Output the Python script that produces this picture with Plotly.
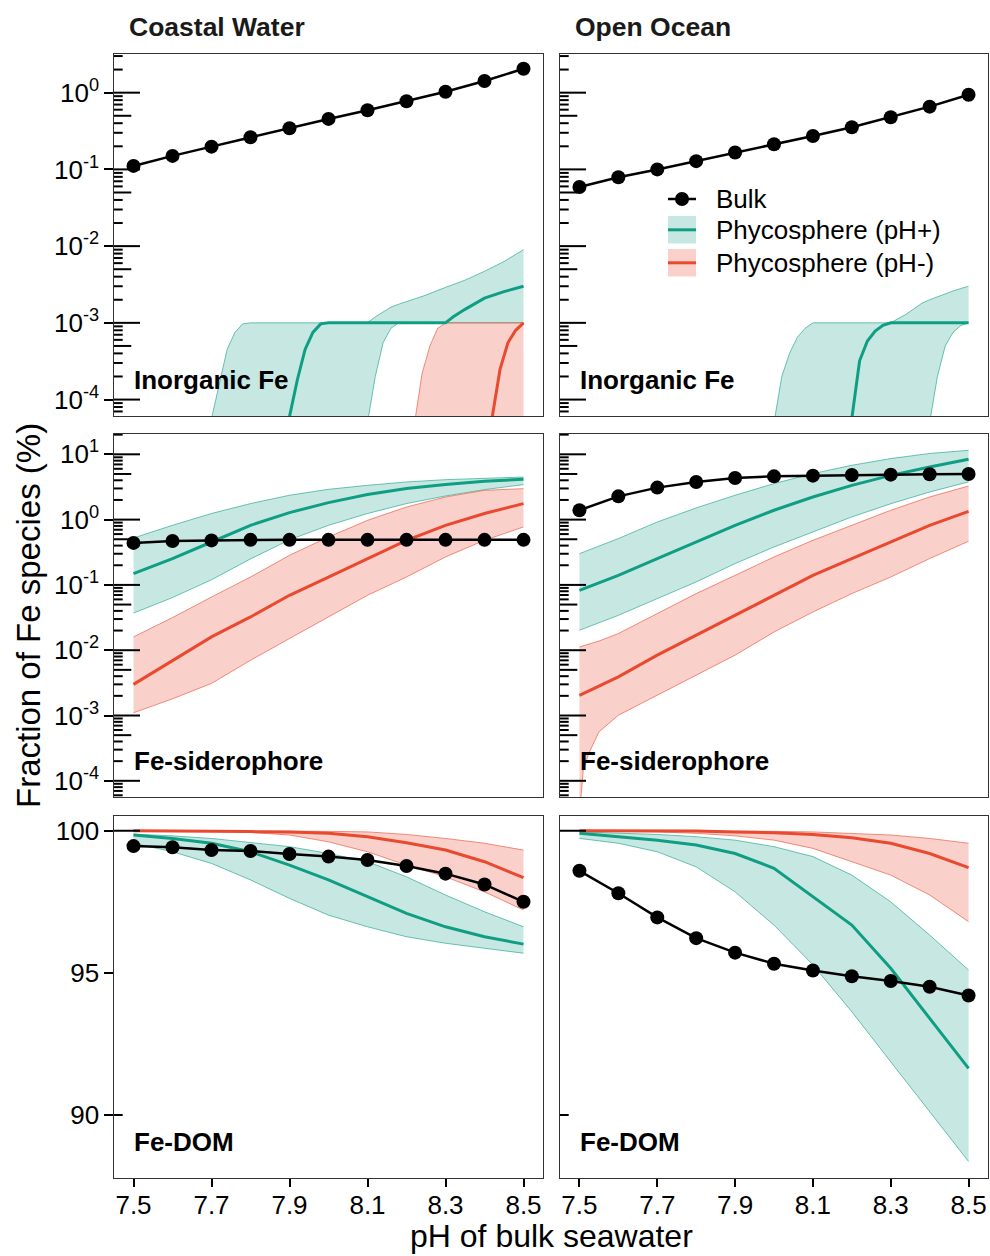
import plotly.graph_objects as go

# ---------------- data ----------------
PH = [7.5, 7.6, 7.7, 7.8, 7.9, 8.0, 8.1, 8.2, 8.3, 8.4, 8.5]
PH_TICKS = [7.5, 7.7, 7.9, 8.1, 8.3, 8.5]

# Inorganic Fe - Coastal Water
coast_inorg_bulk = [0.111, 0.150, 0.198, 0.262, 0.344, 0.455, 0.590, 0.773, 1.03, 1.42, 2.05]
coast_inorg_plus_band_x = [7.50, 7.60, 7.68, 7.70, 7.72, 7.74, 7.76, 7.78, 7.80, 7.90, 8.00, 8.08,
                           8.10, 8.12, 8.14, 8.16, 8.18, 8.20, 8.25, 8.30, 8.35, 8.40, 8.45, 8.50]
coast_inorg_plus_hi = [1e-6, 1e-6, 2e-5, 5.5e-5, 1.5e-4, 4.5e-4, 7.5e-4, 9.7e-4, 1e-3, 1e-3, 1e-3, 1e-3,
                       1e-3, 1.2e-3, 1.4e-3, 1.6e-3, 1.75e-3, 1.9e-3, 2.3e-3, 2.9e-3, 3.6e-3, 4.7e-3, 6.3e-3, 9.0e-3]
coast_inorg_plus_lo = [1e-6, 1e-6, 1e-6, 1e-6, 1e-6, 1e-6, 1e-6, 1e-6, 1e-6, 1e-6, 1e-6, 1e-6,
                       5e-5, 2e-4, 5.5e-4, 8.5e-4, 1e-3, 1e-3, 1e-3, 1e-3, 1e-3, 1e-3, 1e-3, 1e-3]
coast_inorg_plus_med_x = [7.50, 7.80, 7.88, 7.90, 7.92, 7.94, 7.96, 7.98, 8.00, 8.30, 8.32, 8.35, 8.40, 8.45, 8.50]
coast_inorg_plus_med = [1e-6, 1e-6, 1e-5, 6e-5, 1.8e-4, 4.5e-4, 7.5e-4, 9.7e-4, 1e-3, 1e-3, 1.2e-3, 1.5e-3, 2.1e-3, 2.55e-3, 3.0e-3]
coast_inorg_minus_band_x = [7.50, 8.10, 8.20, 8.22, 8.24, 8.26, 8.28, 8.30, 8.40, 8.50]
coast_inorg_minus_hi = [1e-6, 1e-6, 1e-5, 5e-5, 2.2e-4, 5e-4, 8.5e-4, 1e-3, 1e-3, 1e-3]
coast_inorg_minus_lo = [1e-6, 1e-6, 1e-6, 1e-6, 1e-6, 1e-6, 1e-6, 1e-6, 1e-6, 1e-6]
coast_inorg_minus_med_x = [7.50, 8.40, 8.42, 8.44, 8.46, 8.48, 8.50]
coast_inorg_minus_med = [1e-6, 1e-5, 6e-5, 2.5e-4, 5.5e-4, 8e-4, 1e-3]

# Inorganic Fe - Open Ocean
open_inorg_bulk = [0.059, 0.079, 0.100, 0.128, 0.166, 0.213, 0.273, 0.354, 0.478, 0.657, 0.94]
open_inorg_plus_band_x = [7.50, 7.90, 7.98, 8.00, 8.02, 8.04, 8.06, 8.08, 8.10, 8.20, 8.30, 8.34, 8.38,
                          8.40, 8.42, 8.44, 8.46, 8.48, 8.50]
open_inorg_plus_hi = [1e-6, 1e-6, 1.5e-5, 5e-5, 2e-4, 4e-4, 6.5e-4, 8.5e-4, 1e-3, 1e-3, 1e-3, 1.3e-3, 1.8e-3,
                      2.0e-3, 2.2e-3, 2.4e-3, 2.6e-3, 2.8e-3, 3.0e-3]
open_inorg_plus_lo = [1e-6, 1e-6, 1e-6, 1e-6, 1e-6, 1e-6, 1e-6, 1e-6, 1e-6, 1e-6, 1e-6, 1e-6, 1e-6,
                      5e-5, 2e-4, 5e-4, 7.5e-4, 9.2e-4, 1e-3]
open_inorg_plus_med_x = [7.50, 8.10, 8.18, 8.20, 8.22, 8.24, 8.26, 8.28, 8.30, 8.50]
open_inorg_plus_med = [1e-6, 1e-6, 1e-5, 6e-5, 3.2e-4, 5.8e-4, 7.8e-4, 9.3e-4, 1e-3, 1e-3]

# Fe-siderophore - Coastal Water
coast_sid_bulk = [0.44, 0.47, 0.48, 0.49, 0.49, 0.49, 0.49, 0.49, 0.49, 0.49, 0.49]
coast_sid_plus_med = [0.149, 0.253, 0.454, 0.818, 1.28, 1.82, 2.42, 2.99, 3.44, 3.87, 4.15]
coast_sid_plus_hi = [0.523, 0.818, 1.24, 1.76, 2.36, 2.91, 3.35, 3.77, 4.09, 4.34, 4.49]
coast_sid_plus_lo = [0.037, 0.064, 0.12, 0.25, 0.49, 0.818, 1.24, 1.76, 2.30, 2.88, 3.43]
coast_sid_minus_med = [0.0030, 0.0070, 0.016, 0.0323, 0.0693, 0.132, 0.252, 0.482, 0.818, 1.24, 1.76]
coast_sid_minus_hi = [0.016, 0.0316, 0.0653, 0.132, 0.284, 0.542, 0.975, 1.56, 2.22, 2.81, 2.98]
coast_sid_minus_lo = [0.0011, 0.0018, 0.0031, 0.0070, 0.0151, 0.0323, 0.0693, 0.132, 0.268, 0.482, 0.771]

# Fe-siderophore - Open Ocean
open_sid_bulk = [1.39, 2.27, 3.09, 3.77, 4.34, 4.60, 4.71, 4.82, 4.88, 4.94, 5.0]
open_sid_plus_med = [0.0826, 0.140, 0.253, 0.455, 0.818, 1.39, 2.22, 3.34, 4.76, 6.39, 8.38]
open_sid_plus_hi = [0.301, 0.512, 0.92, 1.51, 2.36, 3.56, 5.06, 6.79, 8.6, 10.3, 11.5]
open_sid_plus_lo = [0.0202, 0.0342, 0.0617, 0.111, 0.212, 0.381, 0.647, 1.10, 1.75, 2.65, 3.78]
open_sid_minus_med = [0.00204, 0.0039, 0.0084, 0.0169, 0.0342, 0.0693, 0.140, 0.253, 0.455, 0.818, 1.34]
open_sid_minus_band_x = [7.50, 7.51, 7.525, 7.55, 7.6, 7.7, 7.8, 7.9, 8.0, 8.1, 8.2, 8.3, 8.4, 8.5]
open_sid_minus_hi = [0.0112, 0.0117, 0.0124, 0.0138, 0.018, 0.0363, 0.0736, 0.140, 0.268, 0.482, 0.818, 1.39, 2.22, 3.27]
open_sid_minus_lo = [3e-5, 1.5e-4, 2.7e-4, 5.6e-4, 0.00101, 0.00204, 0.00413, 0.0084, 0.019, 0.0385, 0.0736, 0.132, 0.253, 0.466]

# Fe-DOM - Coastal Water
coast_dom_bulk = [99.46, 99.42, 99.32, 99.29, 99.18, 99.09, 98.97, 98.76, 98.49, 98.11, 97.50]
coast_dom_plus_med = [99.85, 99.73, 99.56, 99.26, 98.79, 98.27, 97.68, 97.09, 96.62, 96.27, 96.01]
coast_dom_plus_hi = [99.88, 99.82, 99.73, 99.59, 99.44, 99.20, 98.91, 98.38, 97.74, 97.15, 96.62]
coast_dom_plus_lo = [99.56, 99.26, 98.85, 98.27, 97.62, 97.03, 96.62, 96.27, 96.04, 95.86, 95.69]
coast_dom_minus_med = [100.0, 100.0, 99.98, 99.97, 99.96, 99.91, 99.79, 99.58, 99.32, 98.91, 98.35]
coast_dom_minus_hi = [100.0, 100.0, 100.0, 100.0, 99.99, 99.98, 99.96, 99.87, 99.73, 99.56, 99.32]
coast_dom_minus_lo = [100.0, 99.99, 99.98, 99.94, 99.85, 99.61, 99.26, 98.79, 98.38, 97.85, 97.21]

# Fe-DOM - Open Ocean
open_dom_bulk = [98.59, 97.80, 96.95, 96.22, 95.71, 95.32, 95.08, 94.88, 94.71, 94.51, 94.20]
open_dom_plus_med = [99.91, 99.79, 99.67, 99.50, 99.20, 98.68, 97.68, 96.68, 95.16, 93.40, 91.64]
open_dom_plus_hi = [99.96, 99.91, 99.87, 99.79, 99.67, 99.44, 99.09, 98.44, 97.50, 96.33, 95.10]
open_dom_plus_lo = [99.73, 99.56, 99.26, 98.73, 97.85, 96.68, 95.28, 93.63, 91.87, 90.12, 88.36]
open_dom_minus_med = [100.0, 100.0, 100.0, 99.99, 99.96, 99.93, 99.87, 99.75, 99.56, 99.20, 98.70]
open_dom_minus_hi = [100.0, 100.0, 100.0, 100.0, 99.99, 99.98, 99.96, 99.91, 99.85, 99.73, 99.56]
open_dom_minus_lo = [100.0, 99.99, 99.96, 99.91, 99.82, 99.67, 99.38, 98.91, 98.44, 97.74, 96.80]

COLUMN_TITLES = ["Coastal Water", "Open Ocean"]
ROW_LABELS = ["Inorganic Fe", "Fe-siderophore", "Fe-DOM"]
LEGEND_LABELS = ["Bulk", "Phycosphere (pH+)", "Phycosphere (pH-)"]
X_TITLE = "pH of bulk seawater"
Y_TITLE = "Fraction of Fe species (%)"

# ---------------- styling ----------------
FONT = "Liberation Sans, Arial, sans-serif"
TEAL = "#0f9e84"
TEAL_FILL = "rgba(20,160,132,0.24)"
RED = "#e8492f"
RED_FILL = "rgba(236,80,60,0.27)"
BORDER = "#333333"
W, H = 990, 1256

XPX = [[114, 543], [560, 988]]
XD = [[a / W, b / W] for a, b in XPX]
YD = [[1 - 416 / H, 1 - 54 / H], [1 - 797 / H, 1 - 434 / H], [1 - 1177.7 / H, 1 - 815.7 / H]]
XR = [7.45, 8.55]
YR = [[-4.214, 0.504], [-4.248, 1.311], [87.79, 100.53]]
YTYPE = ["log", "log", "linear"]

fig = go.Figure()


def ax_ids(n):
    return ("x" if n == 1 else f"x{n}", "y" if n == 1 else f"y{n}")


def band(n, x, lo, hi, color, fill):
    xa, ya = ax_ids(n)
    fig.add_trace(go.Scatter(x=x, y=lo, mode="lines", line=dict(color=color, width=0.6),
                             xaxis=xa, yaxis=ya, showlegend=False, hoverinfo="skip"))
    fig.add_trace(go.Scatter(x=x, y=hi, mode="lines", line=dict(color=color, width=0.6),
                             fill="tonexty", fillcolor=fill,
                             xaxis=xa, yaxis=ya, showlegend=False, hoverinfo="skip"))


def med(n, x, y, color):
    xa, ya = ax_ids(n)
    fig.add_trace(go.Scatter(x=x, y=y, mode="lines", line=dict(color=color, width=3),
                             xaxis=xa, yaxis=ya, showlegend=False))


def bulk(n, y):
    xa, ya = ax_ids(n)
    fig.add_trace(go.Scatter(x=PH, y=y, mode="lines+markers", line=dict(color="black", width=2.5),
                             marker=dict(color="black", size=14),
                             xaxis=xa, yaxis=ya, showlegend=False))


# Panel 1: Coastal / Inorganic
band(1, coast_inorg_plus_band_x, coast_inorg_plus_lo, coast_inorg_plus_hi, TEAL, TEAL_FILL)
band(1, coast_inorg_minus_band_x, coast_inorg_minus_lo, coast_inorg_minus_hi, RED, RED_FILL)
med(1, coast_inorg_plus_med_x, coast_inorg_plus_med, TEAL)
med(1, coast_inorg_minus_med_x, coast_inorg_minus_med, RED)
bulk(1, coast_inorg_bulk)

# Panel 2: Open / Inorganic
band(2, open_inorg_plus_band_x, open_inorg_plus_lo, open_inorg_plus_hi, TEAL, TEAL_FILL)
med(2, open_inorg_plus_med_x, open_inorg_plus_med, TEAL)
bulk(2, open_inorg_bulk)

# Panel 3: Coastal / siderophore
band(3, PH, coast_sid_plus_lo, coast_sid_plus_hi, TEAL, TEAL_FILL)
band(3, PH, coast_sid_minus_lo, coast_sid_minus_hi, RED, RED_FILL)
med(3, PH, coast_sid_plus_med, TEAL)
med(3, PH, coast_sid_minus_med, RED)
bulk(3, coast_sid_bulk)

# Panel 4: Open / siderophore
band(4, PH, open_sid_plus_lo, open_sid_plus_hi, TEAL, TEAL_FILL)
band(4, open_sid_minus_band_x, open_sid_minus_lo, open_sid_minus_hi, RED, RED_FILL)
med(4, PH, open_sid_plus_med, TEAL)
med(4, PH, open_sid_minus_med, RED)
bulk(4, open_sid_bulk)

# Panel 5: Coastal / DOM
band(5, PH, coast_dom_plus_lo, coast_dom_plus_hi, TEAL, TEAL_FILL)
band(5, PH, coast_dom_minus_lo, coast_dom_minus_hi, RED, RED_FILL)
med(5, PH, coast_dom_plus_med, TEAL)
med(5, PH, coast_dom_minus_med, RED)
bulk(5, coast_dom_bulk)

# Panel 6: Open / DOM
band(6, PH, open_dom_plus_lo, open_dom_plus_hi, TEAL, TEAL_FILL)
band(6, PH, open_dom_minus_lo, open_dom_minus_hi, RED, RED_FILL)
med(6, PH, open_dom_plus_med, TEAL)
med(6, PH, open_dom_minus_med, RED)
bulk(6, open_dom_bulk)

# ---------------- axes ----------------
layout = {}
LOG_EXP = list(range(-5, 2))
LOG_MAJOR = [10.0 ** e for e in LOG_EXP]
LOG_MID = [5 * 10.0 ** e for e in LOG_EXP]
LOG_SHORT = [m * 10.0 ** e for e in LOG_EXP for m in (2, 3, 4, 6, 7, 8, 9)]

shapes = []
for n in range(1, 7):
    row, col = (n - 1) // 2, (n - 1) % 2
    xa, ya = ax_ids(n)
    xkey = "xaxis" if n == 1 else f"xaxis{n}"
    ykey = "yaxis" if n == 1 else f"yaxis{n}"
    show_x = row == 2
    layout[xkey] = dict(
        domain=XD[col], anchor=ya, range=XR, showline=True, mirror=True,
        linecolor=BORDER, linewidth=1.3, showgrid=False, zeroline=False,
        ticks="outside" if show_x else "", ticklen=8.5, tickwidth=2, tickcolor="black",
        tickmode="array", tickvals=PH_TICKS if show_x else [],
        ticktext=["%.1f" % v for v in PH_TICKS] if show_x else [],
        showticklabels=show_x, ticklabelstandoff=-5,
        tickfont=dict(size=26, color="black", family=FONT),
    )
    if YTYPE[row] == "log":
        lo, hi = 10 ** YR[row][0], 10 ** YR[row][1]
        pairs = [(10.0 ** e, "10<sup>%d</sup>" % e) for e in LOG_EXP if lo <= 10.0 ** e <= hi]
        inside = [(26, LOG_MAJOR), (17.3, LOG_MID), (8.7, LOG_SHORT)]
    else:
        lo, hi = YR[row]
        pairs = [(90, "90"), (95, "95"), (100, "100")]
        inside = [(26, [100]), (8.7, [90])]
    show_y = col == 0
    layout[ykey] = dict(
        domain=YD[row], anchor=xa, type=YTYPE[row], range=YR[row], showline=True, mirror=True,
        linecolor=BORDER, linewidth=1.3, showgrid=False, zeroline=False,
        ticks="outside" if show_y else "", ticklen=8.5, tickwidth=2, tickcolor="black",
        tickmode="array",
        tickvals=[p[0] for p in pairs] if show_y else [],
        ticktext=[p[1] for p in pairs] if show_y else [],
        showticklabels=show_y, tickfont=dict(size=26, color="black", family=FONT),
    )
    # inside log ticks (annotation_logticks style)
    width_px = XPX[col][1] - XPX[col][0]
    for ln, vals in inside:
        for v in vals:
            if lo <= v <= hi:
                shapes.append(dict(type="line", xref=xa + " domain", yref=ya,
                                   x0=0, x1=ln / width_px, y0=v, y1=v,
                                   line=dict(color="black", width=2)))

# ---------------- annotations ----------------
ann = []
for c, t in enumerate(COLUMN_TITLES):
    ann.append(dict(text="<b>%s</b>" % t, xref="paper", yref="paper",
                    x=[127 / W, 573 / W][c], y=1 - 27 / H, xanchor="left", yanchor="middle",
                    showarrow=False, font=dict(size=26.5, color="#1a1a1a", family=FONT)))
for n in range(1, 7):
    row = (n - 1) // 2
    xa, ya = ax_ids(n)
    ann.append(dict(text="<b>%s</b>" % ROW_LABELS[row], xref=xa, yref=ya + " domain",
                    x=7.495, y=0.0995, xanchor="left", yanchor="middle", showarrow=False,
                    font=dict(size=26, color="black", family=FONT)))
ann.append(dict(text=Y_TITLE, xref="paper", yref="paper", x=28 / W, y=1 - 616 / H,
                textangle=-90, showarrow=False, xanchor="center", yanchor="middle",
                font=dict(size=33, color="black", family=FONT)))
ann.append(dict(text=X_TITLE, xref="paper", yref="paper", x=551 / W, y=0.0,
                showarrow=False, xanchor="center", yanchor="bottom",
                font=dict(size=32, color="black", family=FONT)))


# legend (drawn manually to match the large ribbon swatches)
def px(x):
    return x / W


def py(y):
    return 1 - y / H


leg_y = [199, 230, 263]
for lab, yy in zip(LEGEND_LABELS, leg_y):
    ann.append(dict(text=lab, xref="paper", yref="paper", x=px(714), y=py(yy),
                    xanchor="left", yanchor="middle", showarrow=False,
                    font=dict(size=26, color="black", family=FONT)))

shapes += [
    dict(type="line", xref="paper", yref="paper", x0=px(668), x1=px(696), y0=py(199), y1=py(199),
         line=dict(color="black", width=2.5)),
    dict(type="circle", xref="paper", yref="paper", x0=px(675), x1=px(689), y0=py(206), y1=py(192),
         fillcolor="black", line=dict(color="black", width=0)),
    dict(type="rect", xref="paper", yref="paper", x0=px(668), x1=px(696), y0=py(243.5), y1=py(216),
         fillcolor=TEAL_FILL, line=dict(width=0)),
    dict(type="line", xref="paper", yref="paper", x0=px(668), x1=px(696), y0=py(229.8), y1=py(229.8),
         line=dict(color=TEAL, width=3)),
    dict(type="rect", xref="paper", yref="paper", x0=px(668), x1=px(696), y0=py(276.5), y1=py(249),
         fillcolor=RED_FILL, line=dict(width=0)),
    dict(type="line", xref="paper", yref="paper", x0=px(668), x1=px(696), y0=py(262.8), y1=py(262.8),
         line=dict(color=RED, width=3)),
]

fig.update_layout(
    width=W, height=H, margin=dict(l=0, r=0, t=0, b=0),
    paper_bgcolor="white", plot_bgcolor="white", template="none",
    font=dict(family=FONT, color="black"), showlegend=False,
    annotations=ann, shapes=shapes, **layout,
)

fig.write_html("out.html")
